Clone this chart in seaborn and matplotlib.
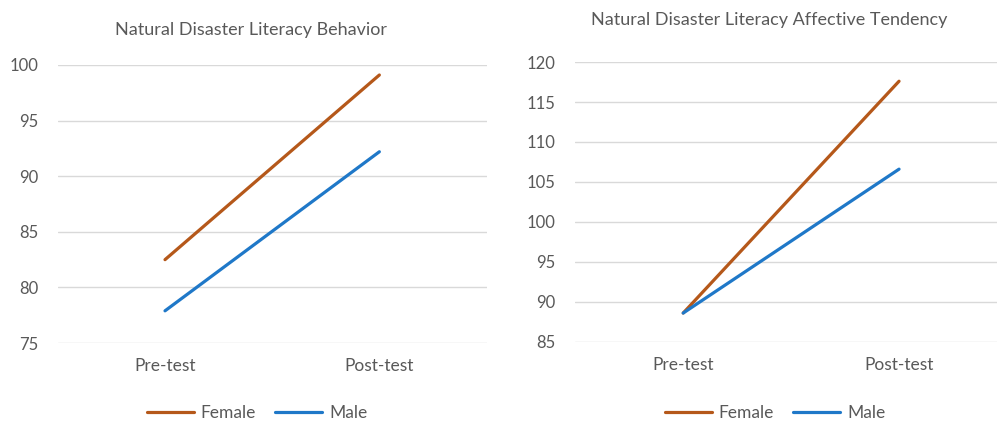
import pandas as pd
import matplotlib.pyplot as plt
import seaborn as sns

tests = ["Pre-test", "Post-test"]
groups = ["Female", "Male"]

behavior_female = [82.5, 99.1]
behavior_male = [77.9, 92.2]

affective_female = [88.6, 117.6]
affective_male = [88.6, 106.6]

colors = {"Female": "#B5581A", "Male": "#1F78C8"}


def make_frame(female, male):
    rows = []
    for g, vals in zip(groups, [female, male]):
        for t, v in zip(tests, vals):
            rows.append({"Test": t, "Group": g, "Score": v})
    return pd.DataFrame(rows)


def style_axis(ax, ylim, ticks):
    ax.set_ylim(*ylim)
    ax.set_yticks(ticks)
    ax.set_xlim(-0.5, 1.5)
    ax.set_xlabel("")
    ax.set_ylabel("")
    for s in ax.spines.values():
        s.set_visible(False)
    ax.grid(axis="y", color="#D9D9D9", linewidth=1.0)
    ax.grid(axis="x", visible=False)
    ax.set_axisbelow(True)
    ax.tick_params(axis="y", length=0, pad=14, labelsize=12, labelcolor="#595959")
    ax.tick_params(axis="x", length=0, pad=11, labelsize=12.5, labelcolor="#595959")


def main():
    sns.set_theme(style="white")
    plt.rcParams["font.family"] = ["Lato", "DejaVu Sans"]

    fig = plt.figure(figsize=(9.97, 4.22), dpi=100)
    ax1 = fig.add_axes([0.058, 0.187, 0.430, 0.659])
    ax2 = fig.add_axes([0.577, 0.190, 0.433, 0.663])

    df1 = make_frame(behavior_female, behavior_male)
    df2 = make_frame(affective_female, affective_male)

    for ax, df in [(ax1, df1), (ax2, df2)]:
        sns.lineplot(data=df, x="Test", y="Score", hue="Group", palette=colors,
                     linewidth=2.3, ax=ax, sort=False, legend=False)
        for line in ax.lines:
            line.set_clip_on(False)

    style_axis(ax1, (75, 100), range(75, 101, 5))
    style_axis(ax2, (85, 120), range(85, 121, 5))

    fig.text(0.252, 1 - 30 / 422, "Natural Disaster Literacy Behavior",
             ha="center", va="center", fontsize=13, color="#595959")
    fig.text(0.772, 1 - 20 / 422, "Natural Disaster Literacy Affective Tendency",
             ha="center", va="center", fontsize=13, color="#595959")

    handles = [plt.Line2D([], [], color=colors[g], linewidth=2.3) for g in groups]
    for ax, cx in [(ax1, 257 / 997), (ax2, 775 / 997)]:
        fig.legend(handles, groups, loc="center", bbox_to_anchor=(cx, 1 - 413 / 422),
                   ncol=2, frameon=False, fontsize=12.5, labelcolor="#595959",
                   handlelength=2.7, handletextpad=0.4, columnspacing=1.1)

    fig.savefig("out.png", dpi=100)
    plt.close(fig)


if __name__ == "__main__":
    main()
